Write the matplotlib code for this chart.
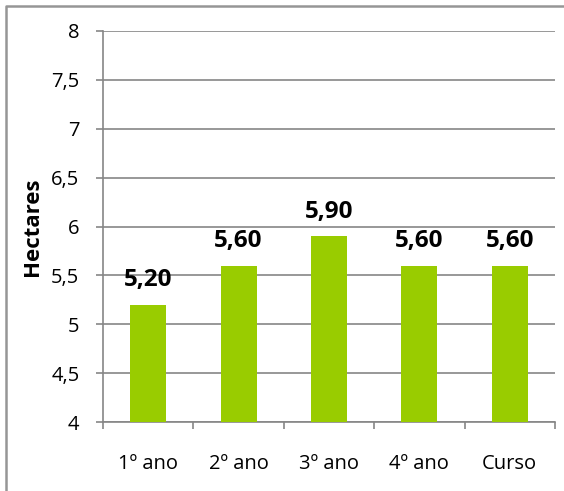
import matplotlib
matplotlib.use("Agg")
import matplotlib.pyplot as plt
from matplotlib.lines import Line2D

categories = ["1º ano", "2º ano", "3º ano", "4º ano", "Curso"]
values = [5.20, 5.60, 5.90, 5.60, 5.60]
y_ticks = [4, 4.5, 5, 5.5, 6, 6.5, 7, 7.5, 8]
y_label = "Hectares"

plt.rcParams["font.family"] = ["Open Sans", "DejaVu Sans"]

W, H = 564, 491
fig = plt.figure(figsize=(W / 100, H / 100), dpi=100)
ax = fig.add_axes([103 / W, 1 - 422 / H, (555 - 103) / W, (422 - 31) / H])

grey = "#868686"
x = list(range(len(categories)))
ax.bar(x, values, width=0.40, color="#99CC00", zorder=3)

for xi, v in zip(x, values):
    ax.annotate(f"{v:.2f}".replace(".", ","), (xi, v), xytext=(0, 13.5),
                textcoords="offset points", ha="center", va="baseline",
                fontsize=17.5, fontweight="bold", color="black")

ax.set_xlim(-0.5, len(categories) - 0.5)
ax.set_ylim(4, 8)
ax.set_yticks(y_ticks)
ax.set_yticklabels([f"{t:g}".replace(".", ",") for t in y_ticks])
ax.yaxis.grid(True, color=grey, linewidth=1.2, zorder=0)

# category ticks between bars, labels centred under bars
ax.set_xticks([i - 0.5 for i in range(len(categories) + 1)])
ax.set_xticklabels([])
ax.set_xticks(x, minor=True)
ax.set_xticklabels(categories, minor=True)
ax.tick_params(axis="x", which="minor", length=0, pad=23, labelsize=14.5)
ax.tick_params(axis="x", which="major", length=5, width=1.2, color=grey, direction="out")
ax.tick_params(axis="y", length=5, width=1.2, color=grey, direction="out", pad=12, labelsize=14.5)

for side in ("top", "right"):
    ax.spines[side].set_visible(False)
for side in ("left", "bottom"):
    ax.spines[side].set_color(grey)
    ax.spines[side].set_linewidth(1.2)

ax.set_ylabel(y_label, fontsize=16, fontweight="bold")
ax.yaxis.set_label_coords(-0.133, 0.5)

# chart-area frame (left and top edges)
fig.add_artist(Line2D([6 / W, 6 / W, 1], [0, 1 - 6 / H, 1 - 6 / H],
                      transform=fig.transFigure, color="#969696", linewidth=1.8))

fig.savefig("out.png", dpi=100)
